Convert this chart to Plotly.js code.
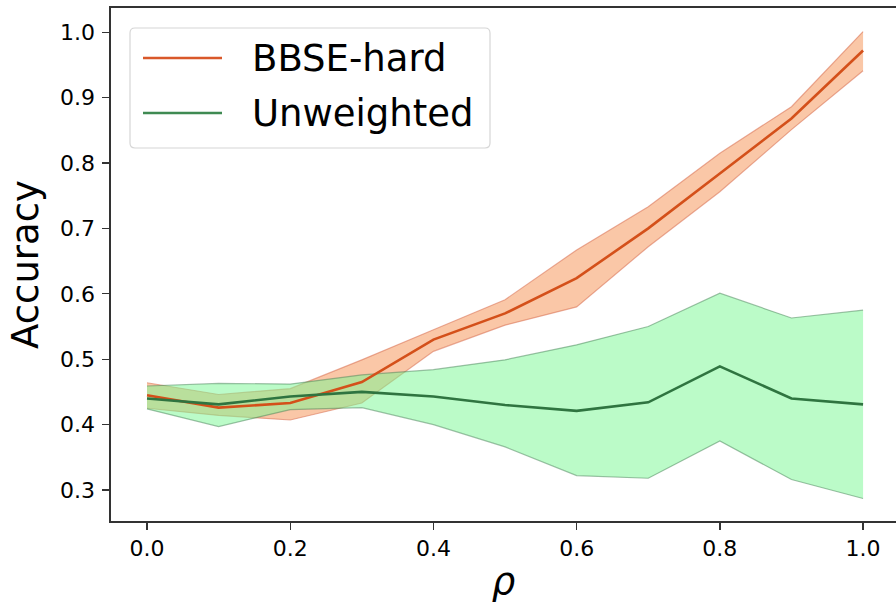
<!DOCTYPE html>
<html>
<head>
<meta charset="utf-8">
<script src="https://cdn.plot.ly/plotly-3.0.1.min.js"></script>
<style>html,body{margin:0;padding:0;background:#fff;}#chart{width:896px;height:605px;}</style>
</head>
<body>
<div id="chart"></div>
<script>
const rho = [0.0, 0.1, 0.2, 0.3, 0.4, 0.5, 0.6, 0.7, 0.8, 0.9, 1.0];

const bbseMean  = [0.445, 0.426, 0.433, 0.465, 0.530, 0.570, 0.624, 0.700, 0.784, 0.868, 0.972];
const bbseUpper = [0.464, 0.446, 0.455, 0.499, 0.545, 0.591, 0.667, 0.733, 0.815, 0.886, 1.001];
const bbseLower = [0.425, 0.414, 0.407, 0.433, 0.512, 0.552, 0.580, 0.672, 0.756, 0.851, 0.941];

const unwMean  = [0.440, 0.431, 0.443, 0.450, 0.443, 0.430, 0.421, 0.434, 0.489, 0.440, 0.431];
const unwUpper = [0.459, 0.463, 0.462, 0.476, 0.484, 0.499, 0.522, 0.550, 0.601, 0.563, 0.575];
const unwLower = [0.424, 0.397, 0.423, 0.426, 0.400, 0.366, 0.322, 0.318, 0.375, 0.316, 0.287];

const seriesNames = ['BBSE-hard', 'Unweighted'];
const xTicks = [0, 0.2, 0.4, 0.6, 0.8, 1.0];
const yTicks = [0.3, 0.4, 0.5, 0.6, 0.7, 0.8, 0.9, 1.0];

const font = '"DejaVu Sans", "Liberation Sans", sans-serif';
const orangeLine = '#d4501a';
const greenLine = '#2f7440';
const orangeLegend = '#d9582a';
const greenLegend = '#3f8a52';
const orangeFill = 'rgba(245,130,60,0.45)';
const orangeEdge = 'rgba(215,110,80,0.55)';
const greenFill = 'rgba(120,248,145,0.5)';
const greenEdge = 'rgba(70,130,85,0.5)';

const traces = [
  {x: rho, y: bbseLower, mode: 'lines', line: {color: orangeEdge, width: 1.2}, showlegend: false, hoverinfo: 'skip'},
  {x: rho, y: bbseUpper, mode: 'lines', line: {color: orangeEdge, width: 1.2}, fill: 'tonexty', fillcolor: orangeFill, showlegend: false, hoverinfo: 'skip'},
  {x: rho, y: unwLower, mode: 'lines', line: {color: greenEdge, width: 1.2}, showlegend: false, hoverinfo: 'skip'},
  {x: rho, y: unwUpper, mode: 'lines', line: {color: greenEdge, width: 1.2}, fill: 'tonexty', fillcolor: greenFill, showlegend: false, hoverinfo: 'skip'},
  {x: rho, y: bbseMean, mode: 'lines', name: seriesNames[0], line: {color: orangeLine, width: 2.6}, showlegend: false},
  {x: rho, y: unwMean, mode: 'lines', name: seriesNames[1], line: {color: greenLine, width: 2.6}, showlegend: false}
];

// Legend drawn in paper coordinates (plot area: x 111..896 px, y 8..521 px)
const W = 896, H = 605, L = 111, T = 8, B = 521;
const pw = W - L, ph = B - T;
const px = v => (v - L) / pw;
const py = v => 1 - (v - T) / ph;

function roundRect(x0, y0, x1, y1, r) {
  const X0 = px(x0), X1 = px(x1), Y0 = py(y0), Y1 = py(y1);
  const rx = r / pw, ry = r / ph;
  return `M ${X0 + rx},${Y0} L ${X1 - rx},${Y0} Q ${X1},${Y0} ${X1},${Y0 - ry} ` +
         `L ${X1},${Y1 + ry} Q ${X1},${Y1} ${X1 - rx},${Y1} L ${X0 + rx},${Y1} ` +
         `Q ${X0},${Y1} ${X0},${Y1 + ry} L ${X0},${Y0 - ry} Q ${X0},${Y0} ${X0 + rx},${Y0} Z`;
}

const legendRows = [
  {name: seriesNames[0], color: orangeLegend, y: 58},
  {name: seriesNames[1], color: greenLegend, y: 113}
];

const shapes = [
  {type: 'path', xref: 'paper', yref: 'paper', path: roundRect(130, 28, 490, 148, 5),
   fillcolor: 'rgba(255,255,255,0.85)', line: {color: '#d6d6d6', width: 1.2}, layer: 'above'}
];
const annotations = [];
legendRows.forEach(r => {
  shapes.push({type: 'line', xref: 'paper', yref: 'paper', x0: px(143), x1: px(222), y0: py(r.y), y1: py(r.y),
               line: {color: r.color, width: 2.6}, layer: 'above'});
  annotations.push({xref: 'paper', yref: 'paper', x: px(250), y: py(r.y), xanchor: 'left', yanchor: 'middle',
                    text: r.name, showarrow: false, font: {family: font, size: 37, color: '#000'}});
});

const layout = {
  width: W, height: H,
  margin: {l: L, r: 0, t: T, b: H - B},
  paper_bgcolor: '#fff', plot_bgcolor: '#fff',
  font: {family: font, color: '#000'},
  showlegend: false,
  shapes: shapes,
  annotations: annotations,
  xaxis: {
    range: [-0.0503, 1.046],
    tickvals: xTicks, ticktext: xTicks.map(v => v.toFixed(1)),
    showgrid: false, zeroline: false,
    showline: true, mirror: true, linecolor: '#333', linewidth: 1.6,
    ticks: 'outside', ticklen: 7, tickwidth: 1.4, tickcolor: '#333',
    tickfont: {family: font, size: 22, color: '#000'},
    title: {text: '<i>ρ</i>', font: {family: font, size: 37, color: '#000'}, standoff: 8}
  },
  yaxis: {
    range: [0.2526, 1.037],
    tickvals: yTicks, ticktext: yTicks.map(v => v.toFixed(1)),
    showgrid: false, zeroline: false,
    showline: true, mirror: false, linecolor: '#333', linewidth: 1.6,
    ticks: 'outside', ticklen: 7, tickwidth: 1.4, tickcolor: '#333',
    ticklabelstandoff: 3,
    tickfont: {family: font, size: 22, color: '#000'},
    title: {text: 'Accuracy', font: {family: font, size: 37, color: '#000'}, standoff: 10}
  }
};

Plotly.newPlot('chart', traces, layout, {displayModeBar: false, staticPlot: true});
</script>
</body>
</html>
